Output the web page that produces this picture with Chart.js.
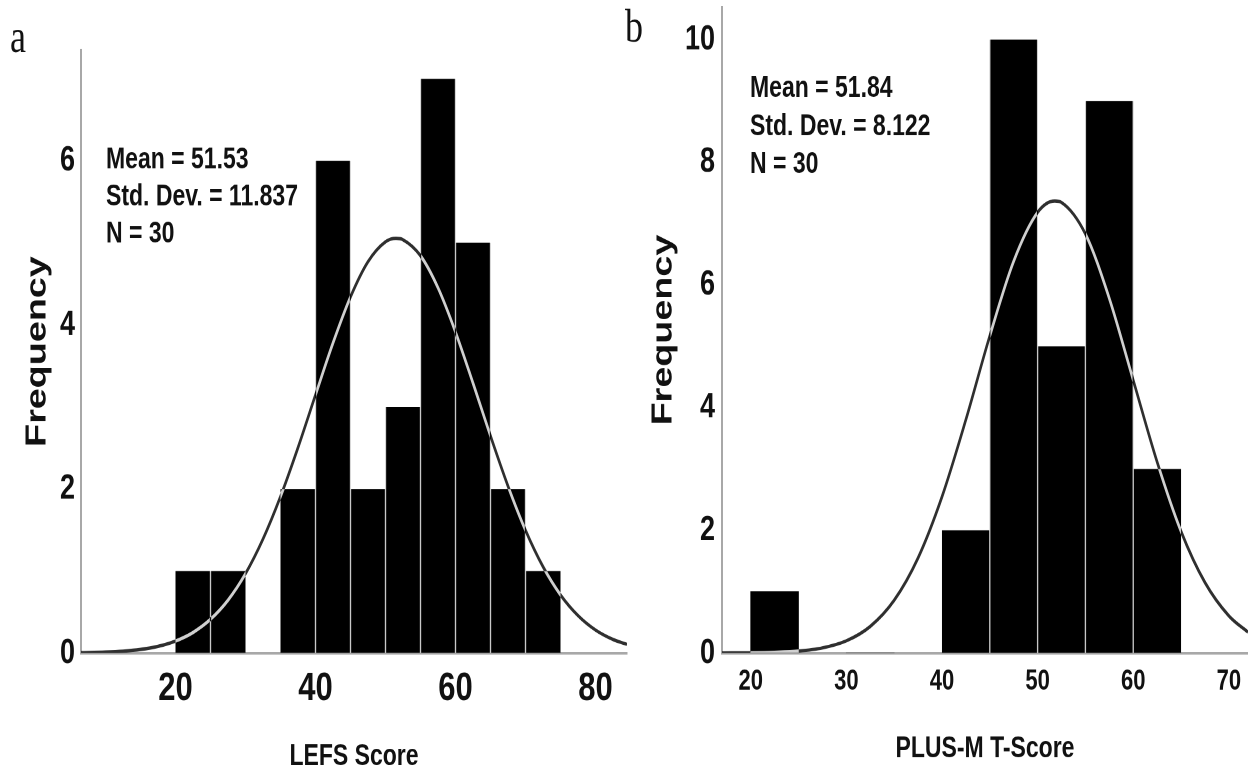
<!DOCTYPE html>
<html>
<head>
<meta charset="utf-8">
<script src="https://cdn.jsdelivr.net/npm/chart.js@4.4.1/dist/chart.umd.min.js"></script>
<style>
    html, body { margin: 0; padding: 0; background: #fff; overflow: hidden; }
    #page { position: relative; width: 1248px; height: 776px; }
    /* the source figure is squeezed sideways, so both panels get stretched vertically */
    .panel { position: absolute; top: 0; transform-origin: 0 0; transform: scaleY(1.3); }
    .panel canvas { display: block; }
    #panelA { left: 0; }
    #panelB { left: 612px; }
</style>
</head>
<body>
<div id="page">
    <div class="panel" id="panelA"><canvas id="chartA" width="640" height="597"></canvas></div>
    <div class="panel" id="panelB"><canvas id="chartB" width="636" height="597"></canvas></div>
</div>
<script>
// panel a - LEFS
const lefsBins = [22.5, 27.5, 32.5, 37.5, 42.5, 47.5, 52.5, 57.5, 62.5, 67.5, 72.5];
const lefsCounts = [1, 1, 0, 2, 6, 2, 3, 7, 5, 2, 1];
const lefsCurveX = [6.5, 10, 12.5, 15, 17.5, 20, 22.5, 25, 27.5, 30, 32.5, 35, 37.5, 40, 42.5, 45, 47.5, 50, 51.5, 52.5, 55, 57.5, 60, 62.5, 65, 67.5, 70, 72.5, 75, 77.5, 80, 82.5, 84.5];
const lefsCurveY = [0.004, 0.011, 0.022, 0.043, 0.081, 0.146, 0.250, 0.411, 0.644, 0.967, 1.389, 1.907, 2.504, 3.146, 3.779, 4.341, 4.770, 5.013, 5.055, 5.038, 4.843, 4.452, 3.913, 3.290, 2.646, 2.035, 1.496, 1.052, 0.708, 0.456, 0.280, 0.165, 0.105];
const lefsStats = ['Mean = 51.53', 'Std. Dev. = 11.837', 'N = 30'];

// panel b - PLUS-M
const plusBins = [22.5, 27.5, 32.5, 37.5, 42.5, 47.5, 52.5, 57.5, 62.5];
const plusCounts = [1, 0, 0, 0, 2, 10, 5, 9, 3];
const plusCurveX = [17, 20, 22.5, 25, 27.5, 30, 32.5, 35, 37.5, 40, 42.5, 45, 47.5, 50, 51.8, 52.5, 55, 57.5, 60, 62.5, 65, 67.5, 70, 72];
const plusCurveY = [0.001, 0.003, 0.011, 0.031, 0.083, 0.198, 0.433, 0.859, 1.550, 2.546, 3.803, 5.168, 6.387, 7.182, 7.368, 7.344, 6.831, 5.779, 4.448, 3.114, 1.983, 1.149, 0.605, 0.339];
const plusStats = ['Mean = 51.84', 'Std. Dev. = 8.122', 'N = 30'];

const sans = "'Liberation Sans', Arial, sans-serif";

// white plot area, difference-blended curve (dark on white, light on the bars), stats text
const makeDecor = (letter, letterX, letterY, stats, textX, textY, gap) => ({
    id: 'decor',
    beforeDraw(chart) {
        const {ctx, chartArea: a} = chart;
        ctx.save();
        ctx.fillStyle = '#fff';
        ctx.fillRect(a.left, a.top, a.right - a.left, a.bottom - a.top);
        ctx.restore();
    },
    beforeDatasetDraw(chart, args) {
        if (args.meta.type === 'line') {
            chart.ctx.save();
            chart.ctx.globalCompositeOperation = 'difference';
        }
    },
    afterDatasetDraw(chart, args) {
        if (args.meta.type === 'line') chart.ctx.restore();
    },
    afterDraw(chart) {
        const ctx = chart.ctx;
        ctx.save();
        ctx.fillStyle = '#111';
        ctx.textBaseline = 'alphabetic';
        ctx.font = "36px 'Liberation Serif', serif";
        ctx.fillText(letter, letterX, letterY);
        ctx.font = 'bold 23px ' + sans;
        stats.forEach((t, i) => ctx.fillText(t, textX, textY + i * gap));
        ctx.restore();
    }
});

const barBorders = (c) => {
    const d = c.dataset.data;
    const i = c.dataIndex;
    const prev = i > 0 && d[i - 1].y > 0;
    const next = i < d.length - 1 && d[i + 1].y > 0;
    return {left: prev ? 1 : 0, right: next ? 1 : 0, top: 0, bottom: 0};
};

// keep the tick labels from pushing the plot area around
const noPad = (s) => {
    s.paddingTop = 0;
    s.paddingBottom = 0;
    s.paddingLeft = 0;
    s.paddingRight = 0;
};

const makeConfig = (p) => ({
    type: 'bar',
    data: {
        datasets: [{
                type: 'line',
                data: p.curveX.map((x, i) => ({x: x, y: p.curveY[i]})),
                borderColor: '#d0d0d0',
                borderWidth: 2.6,
                pointRadius: 0,
                cubicInterpolationMode: 'monotone',
                fill: false,
                order: 0,
            },
            {
                type: 'bar',
                data: p.bins.map((x, i) => ({x: x, y: p.counts[i]})),
                backgroundColor: '#000',
                borderColor: '#c8c8c8',
                borderWidth: barBorders,
                borderSkipped: false,
                barPercentage: 1,
                categoryPercentage: 1,
                order: 1,
            }
        ]
    },
    options: {
        responsive: false,
        devicePixelRatio: 2,
        animation: false,
        layout: { padding: p.padding },
        plugins: { legend: { display: false }, tooltip: { enabled: false } },
        scales: {
            x: {
                type: 'linear',
                offset: false,
                min: p.xMin,
                max: p.xMax,
                afterFit: (s) => { s.height = 94.7; noPad(s); },
                grid: { display: false, drawTicks: false, offset: false },
                border: { color: '#a8a8a8', width: 2 },
                ticks: {
                    stepSize: p.xStep,
                    includeBounds: false,
                    padding: p.xTickPad,
                    color: '#111',
                    font: { family: sans, size: p.xTickSize, weight: 'bold' },
                },
                title: {
                    display: true,
                    text: p.xTitle,
                    color: '#111',
                    padding: { top: 0, bottom: p.xTitlePad },
                    font: { family: sans, size: 23, weight: 'bold' },
                }
            },
            y: {
                min: 0,
                max: p.yMax,
                afterFit: (s) => { s.width = p.yWidth; noPad(s); },
                grid: { display: false, drawTicks: false },
                border: { color: '#a8a8a8', width: 2 },
                ticks: {
                    stepSize: 2,
                    includeBounds: false,
                    padding: p.yTickPad,
                    color: '#111',
                    font: { family: sans, size: p.yTickSize, weight: 'bold' },
                },
                title: {
                    display: true,
                    text: 'Frequency',
                    color: '#111',
                    padding: { top: p.yTitlePad, bottom: 0 },
                    font: { family: sans, size: 29, weight: 'bold' },
                }
            }
        }
    },
    plugins: [makeDecor(p.letter, p.letterX, p.letterY, p.stats, p.textX, p.textY, p.gap)]
});

const chartA = new Chart(document.getElementById('chartA'), makeConfig({
    bins: lefsBins, counts: lefsCounts, curveX: lefsCurveX, curveY: lefsCurveY,
    xMin: 6.5, xMax: 84.5, xStep: 20, yMax: 7.35,
    padding: { top: 38.5, right: 13, left: 0, bottom: 0 },
    yWidth: 81, xTickPad: 9, xTickSize: 31, yTickPad: 6, yTickSize: 27,
    xTitle: 'LEFS Score', xTitlePad: 1, yTitlePad: 20,
    letter: 'a', letterX: 10, letterY: 40, stats: lefsStats, textX: 106, textY: 129.5, gap: 28.5,
}));

const chartB = new Chart(document.getElementById('chartB'), makeConfig({
    bins: plusBins, counts: plusCounts, curveX: plusCurveX, curveY: plusCurveY,
    xMin: 17, xMax: 72, xStep: 10, yMax: 10.53,
    padding: { top: 5.4, right: 0, left: 0, bottom: 0 },
    yWidth: 110, xTickPad: 9, xTickSize: 22, yTickPad: 7, yTickSize: 27,
    xTitle: 'PLUS-M T-Score', xTitlePad: 7, yTitlePad: 34,
    letter: 'b', letterX: 13, letterY: 32, stats: plusStats, textX: 138, textY: 74.6, gap: 29.2,
}));
</script>
</body>
</html>
